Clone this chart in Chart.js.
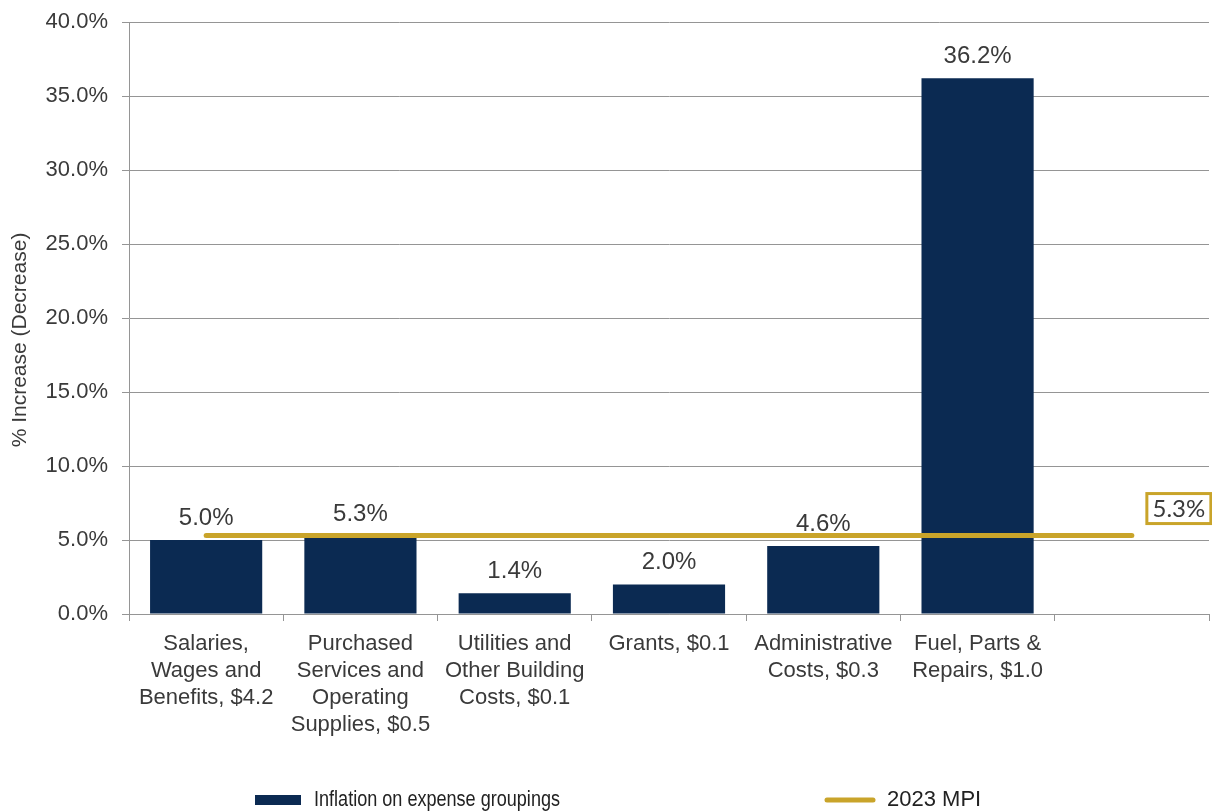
<!DOCTYPE html>
<html>
<head>
<meta charset="utf-8">
<title>Inflation on expense groupings</title>
<script src="https://cdn.jsdelivr.net/npm/chart.js@4.4.1/dist/chart.umd.min.js"></script>
<style>
    html, body { margin: 0; padding: 0; background: #fff; }
    canvas { display: block; }
</style>
</head>
<body>
<canvas id="expenseChart" width="1212" height="811"></canvas>
<script>
// Expense groupings ($ amounts shown in the labels)
const categories = [
    ['Salaries,', 'Wages and', 'Benefits, $4.2'],
    ['Purchased', 'Services and', 'Operating', 'Supplies, $0.5'],
    ['Utilities and', 'Other Building', 'Costs, $0.1'],
    ['Grants, $0.1'],
    ['Administrative', 'Costs, $0.3'],
    ['Fuel, Parts &', 'Repairs, $1.0'],
    ''
];
const inflationPct = [5.0, 5.3, 1.4, 2.0, 4.6, 36.2, null];
const mpiPct = [5.3, 5.3, 5.3, 5.3, 5.3, 5.3, 5.3];
const yMin = 0;
const yMax = 40;
const yStep = 5;

const seriesNames = ['Inflation on expense groupings', '2023 MPI'];
const yTitle = '% Increase (Decrease)';

const colors = {
    navy: '#0b2a52',
    gold: '#c9a42a',
    grid: '#959595',
    text: '#3a3a3a'
};

const FONT = "'Liberation Sans', Arial, sans-serif";

// Percent labels above each bar
const barLabels = {
    id: 'barLabels',
    afterDatasetsDraw(chart) {
        const meta = chart.getDatasetMeta(0);
        const ctx = chart.ctx;
        ctx.save();
        ctx.font = '24px ' + FONT;
        ctx.fillStyle = colors.text;
        ctx.textAlign = 'center';
        ctx.textBaseline = 'alphabetic';
        meta.data.forEach((bar, i) => {
            const v = inflationPct[i];
            if (v === null) return;
            ctx.fillText(v.toFixed(1) + '%', bar.x, bar.y - 15);
        });
        ctx.restore();
    }
};

// Boxed value tag at the end of the MPI line
const mpiTag = {
    id: 'mpiTag',
    afterDatasetsDraw(chart) {
        const meta = chart.getDatasetMeta(1);
        const last = meta.data[meta.data.length - 1];
        const v = mpiPct[mpiPct.length - 1];
        const ctx = chart.ctx;
        const x = last.x + 15, y = last.y - 42, w = 64, h = 30;
        ctx.save();
        ctx.fillStyle = '#fff';
        ctx.fillRect(x, y, w, h);
        ctx.strokeStyle = colors.gold;
        ctx.lineWidth = 3;
        ctx.strokeRect(x, y, w, h);
        ctx.font = "24px Lato, 'Open Sans', sans-serif";
        ctx.fillStyle = colors.text;
        ctx.textAlign = 'center';
        ctx.textBaseline = 'middle';
        ctx.fillText(v.toFixed(1) + '%', x + w / 2, y + h / 2 + 1);
        ctx.restore();
    }
};

// Rotated y-axis title, sitting a little below the axis middle
const yAxisTitle = {
    id: 'yAxisTitle',
    afterDraw(chart) {
        const area = chart.chartArea;
        const ctx = chart.ctx;
        ctx.save();
        ctx.translate(20, (area.top + area.bottom) / 2 + 22);
        ctx.rotate(-Math.PI / 2);
        ctx.font = '21px ' + FONT;
        ctx.fillStyle = colors.text;
        ctx.textAlign = 'center';
        ctx.textBaseline = 'middle';
        ctx.fillText(yTitle, 0, 0);
        ctx.restore();
    }
};

// Wide-spaced legend along the bottom
const bottomLegend = {
    id: 'bottomLegend',
    afterDraw(chart) {
        const ctx = chart.ctx;
        const y = chart.height - 11;
        const cx = chart.width / 2;
        ctx.save();
        ctx.font = '22px ' + FONT;
        ctx.textBaseline = 'middle';
        // bar swatch + condensed label
        let x = cx - 351;
        ctx.fillStyle = colors.navy;
        ctx.fillRect(x, y - 5, 46, 10);
        ctx.fillStyle = '#222';
        ctx.fillText(seriesNames[0], x + 59, y, 246);
        // line swatch + label
        x = cx + 219;
        ctx.strokeStyle = colors.gold;
        ctx.lineWidth = 5;
        ctx.lineCap = 'round';
        ctx.beginPath();
        ctx.moveTo(x + 2, y);
        ctx.lineTo(x + 48, y);
        ctx.stroke();
        ctx.fillText(seriesNames[1], x + 62, y);
        ctx.restore();
    }
};

new Chart(document.getElementById('expenseChart'), {
    type: 'bar',
    data: {
        labels: categories,
        datasets: [
            {
                type: 'bar',
                label: seriesNames[0],
                data: inflationPct,
                backgroundColor: colors.navy,
                barPercentage: 0.727,
                categoryPercentage: 1.0,
                order: 2
            },
            {
                type: 'line',
                label: seriesNames[1],
                data: mpiPct,
                borderColor: colors.gold,
                borderWidth: 5,
                borderCapStyle: 'round',
                pointRadius: 0,
                fill: false,
                order: 1
            }
        ]
    },
    options: {
        responsive: false,
        devicePixelRatio: 1,
        animation: false,
        layout: { padding: { top: 22, right: 3, left: 0, bottom: 60 } },
        plugins: {
            legend: { display: false },
            tooltip: { enabled: false }
        },
        scales: {
            x: {
                offset: true,
                grid: {
                    offset: true,
                    drawOnChartArea: false,
                    color: colors.grid,
                    tickLength: 7
                },
                border: { color: colors.grid },
                ticks: {
                    color: colors.text,
                    font: { family: FONT, size: 22, lineHeight: 1.23 },
                    maxRotation: 0,
                    minRotation: 0,
                    autoSkip: false,
                    padding: 9
                },
                afterFit(scale) { scale.height = 137; }
            },
            y: {
                min: yMin,
                max: yMax,
                grid: { color: colors.grid, tickLength: 7 },
                border: { color: colors.grid },
                ticks: {
                    stepSize: yStep,
                    color: colors.text,
                    font: { family: FONT, size: 22 },
                    padding: 14,
                    callback: v => v.toFixed(1) + '%'
                },
                afterFit(scale) {
                    scale.width = 129;
                    // let the layout padding alone decide the top edge
                    scale.paddingTop = 0;
                    scale.paddingBottom = 0;
                }
            }
        }
    },
    plugins: [barLabels, mpiTag, yAxisTitle, bottomLegend]
});
</script>
</body>
</html>
